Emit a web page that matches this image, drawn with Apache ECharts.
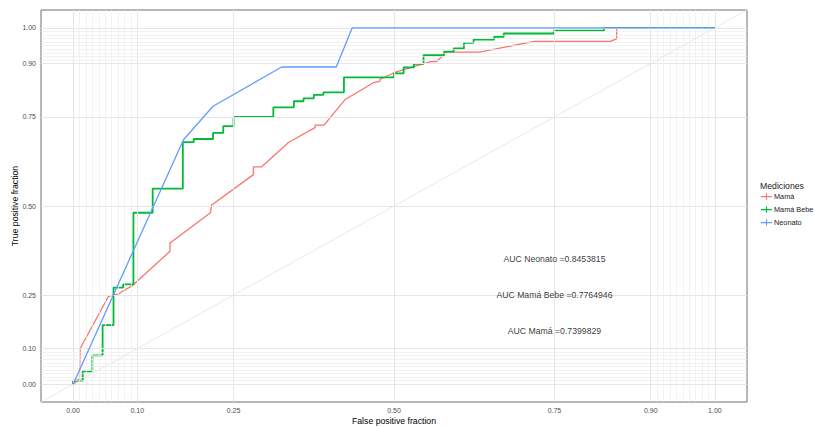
<!DOCTYPE html>
<html><head><meta charset="utf-8">
<script src="https://cdn.jsdelivr.net/npm/echarts@6/dist/echarts.min.js"></script>
<style>html,body{margin:0;padding:0;background:#fff}#c{width:814px;height:428px}</style>
</head><body><div id="c"></div>
<script>
// ---- axis breaks ----
const tickValues = [0, 0.10, 0.25, 0.50, 0.75, 0.90, 1.00];
const tickLabels = ['0.00', '0.10', '0.25', '0.50', '0.75', '0.90', '1.00'];
const gridBreaks = [0, 0.01, 0.02, 0.03, 0.04, 0.05, 0.06, 0.07, 0.08, 0.09, 0.10,
                    0.25, 0.50, 0.75,
                    0.90, 0.91, 0.92, 0.93, 0.94, 0.95, 0.96, 0.97, 0.98, 0.99, 1.00];

// ---- series ----
const seriesNames = ['Mamá', 'Mamá Bebe', 'Neonato'];
const seriesColors = ['#F8766D', '#00BA38', '#619CFF'];

// Mamá (ROC, red)
const mamaFPF = [0, 0.010, 0.011, 0.055, 0.063, 0.071, 0.078, 0.092, 0.151, 0.151, 0.214, 0.216, 0.281, 0.281, 0.294, 0.336, 0.377, 0.377, 0.391, 0.424, 0.468, 0.478, 0.478, 0.500, 0.531, 0.557, 0.566, 0.582, 0.633, 0.719, 0.837, 0.847, 0.847, 1.000];
const mamaTPF = [0, 0.015, 0.100, 0.246, 0.251, 0.253, 0.262, 0.276, 0.373, 0.396, 0.481, 0.503, 0.588, 0.610, 0.610, 0.679, 0.720, 0.727, 0.727, 0.799, 0.846, 0.850, 0.855, 0.874, 0.891, 0.905, 0.905, 0.932, 0.932, 0.962, 0.962, 0.969, 1.000, 1.000];

// Mamá Bebe (ROC step, green): x where the curve rises, new level
const bebeFPF = [0, 0, 0.015, 0.030, 0.046, 0.063, 0.078, 0.094, 0.124, 0.171, 0.188, 0.218, 0.234, 0.250, 0.312, 0.344, 0.359, 0.375, 0.390, 0.422, 0.500, 0.515, 0.531, 0.546, 0.578, 0.593, 0.609, 0.624, 0.656, 0.671, 0.749, 0.827, 1.000];
const bebeTPF = [0, 0.010, 0.036, 0.081, 0.166, 0.271, 0.280, 0.481, 0.549, 0.679, 0.688, 0.705, 0.724, 0.750, 0.777, 0.794, 0.802, 0.812, 0.819, 0.861, 0.872, 0.889, 0.899, 0.923, 0.933, 0.942, 0.958, 0.967, 0.975, 0.984, 0.992, 1.000, 1.000];

// Neonato (ROC, blue)
const neoFPF = [0, 0.172, 0.218, 0.325, 0.410, 0.435, 1.000];
const neoTPF = [0, 0.686, 0.780, 0.890, 0.890, 1.000, 1.000];

// ---- annotations ----
const aucLabels = ['AUC Neonato =0.8453815', 'AUC Mamá Bebe =0.7764946', 'AUC Mamá =0.7399829'];
const aucX = [0.75, 0.75, 0.75];
const aucY = [0.35, 0.25, 0.15];

const refLine = [-0.05, 1.05];

// ---- build ----
const FONT = '"Liberation Sans", Arial, sans-serif';
const zip = (a, b) => a.map((v, i) => [v, b[i]]);
const crossIcon = 'path://M0,3H12V4.2H0Z M5.4,0H6.6V7H5.4Z';

const gridLineData = [];
gridBreaks.forEach(v => {
  const major = tickValues.some(t => Math.abs(t - v) < 1e-9);
  const ls = { color: major ? '#e6e6e6' : '#ededed', width: major ? 1 : 0.7, type: 'solid' };
  gridLineData.push({ xAxis: v, lineStyle: ls });
  gridLineData.push({ yAxis: v, lineStyle: ls });
});

const axisCommon = {
  type: 'value', min: -0.05, max: 1.05,
  axisLine: { show: false },
  splitLine: { show: false },
  axisTick: { show: true, customValues: tickValues, length: 3, lineStyle: { color: '#555', width: 1 } },
  axisLabel: {
    customValues: tickValues, fontSize: 7, color: '#4d4d4d', fontFamily: FONT, margin: 5,
    formatter: v => { const i = tickValues.findIndex(t => Math.abs(t - v) < 1e-9); return i >= 0 ? tickLabels[i] : ''; }
  },
  nameLocation: 'middle',
  nameMoveOverlap: false,
  nameTextStyle: { fontSize: 8.7, color: '#000', fontFamily: FONT }
};

const chart = echarts.init(document.getElementById('c'), null, { renderer: 'svg' });
chart.setOption({
  animation: false,
  backgroundColor: '#fff',
  textStyle: { fontFamily: FONT },
  grid: { left: 41, top: 10, width: 706, height: 392, containLabel: false, outerBoundsMode: 'none',
          show: true, borderColor: '#6e6e6e', borderWidth: 1, backgroundColor: 'transparent' },
  xAxis: Object.assign({}, axisCommon, { name: 'False positive fraction', nameGap: 14 }),
  yAxis: Object.assign({}, axisCommon, { name: 'True positive fraction', nameGap: 22 }),
  title: { text: 'Mediciones', left: 760, top: 181, padding: 0, textStyle: { fontSize: 8.7, fontWeight: 'normal', color: '#1a1a1a', fontFamily: FONT } },
  legend: {
    data: seriesNames.map(n => ({ name: n, icon: crossIcon })),
    orient: 'vertical', left: 761, top: 193, padding: 0,
    itemWidth: 11, itemHeight: 7, itemGap: 6,
    textStyle: { fontSize: 7.3, color: '#1a1a1a', fontFamily: FONT, padding: [0, 0, 0, -3] }
  },
  series: [
    {
      name: 'ref', type: 'line', data: zip(refLine, refLine), symbol: 'none', silent: true, z: 1,
      lineStyle: { color: '#e8e8e8', width: 1 },
      markLine: { silent: true, symbol: ['none', 'none'], label: { show: false }, animation: false, data: gridLineData }
    },
    { name: seriesNames[0], type: 'line', data: zip(mamaFPF, mamaTPF), symbol: 'none', color: seriesColors[0], lineStyle: { width: 1.3 }, z: 3 },
    { name: seriesNames[1], type: 'line', step: 'end', data: zip(bebeFPF, bebeTPF), symbol: 'none', color: seriesColors[1], lineStyle: { width: 1.8 }, z: 4 },
    { name: seriesNames[2], type: 'line', data: zip(neoFPF, neoTPF), symbol: 'none', color: seriesColors[2], lineStyle: { width: 1.3 }, z: 5 },
    {
      name: 'auc', type: 'scatter', symbolSize: 1, itemStyle: { color: 'rgba(0,0,0,0)' }, silent: true, z: 6,
      data: aucLabels.map((t, i) => ({ value: [aucX[i], aucY[i]], name: t })),
      label: { show: true, position: 'inside', formatter: p => p.name, fontSize: 8.7, color: '#000', fontFamily: FONT }
    }
  ]
});
</script></body></html>
